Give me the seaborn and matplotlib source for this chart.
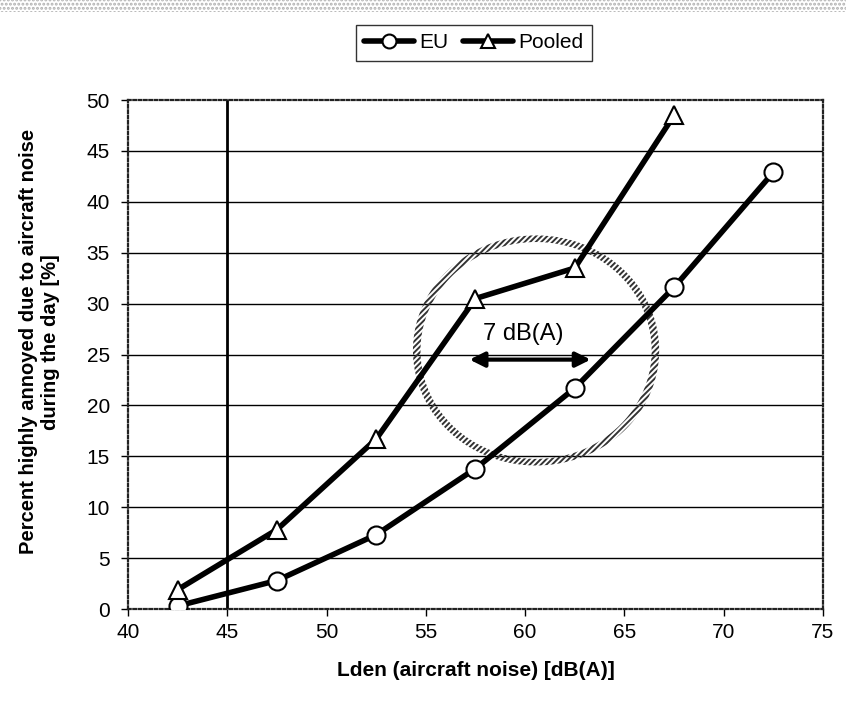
import numpy as np
import pandas as pd
import matplotlib
matplotlib.use("Agg")
import matplotlib.pyplot as plt
from matplotlib.patches import PathPatch, Rectangle
from matplotlib.path import Path
from matplotlib.lines import Line2D
import seaborn as sns

lden = [42.5, 47.5, 52.5, 57.5, 62.5, 67.5, 72.5]
eu = [0.3, 2.8, 7.3, 13.8, 21.7, 31.6, 42.9]
lden_pooled = [42.5, 47.5, 52.5, 57.5, 62.5, 67.5]
pooled = [1.9, 7.8, 16.7, 30.5, 33.5, 48.5]

xticks = [40, 45, 50, 55, 60, 65, 70, 75]
yticks = [0, 5, 10, 15, 20, 25, 30, 35, 40, 45, 50]

sns.set_style("white")
plt.rcParams["font.family"] = ["Liberation Sans", "DejaVu Sans"]
plt.rcParams["text.color"] = "black"
plt.rcParams["axes.labelcolor"] = "black"
plt.rcParams["hatch.linewidth"] = 1.4

fig = plt.figure(figsize=(8.46, 7.17), dpi=100)
ax = fig.add_axes([0.1513, 0.1506, 0.8215, 0.7099])

# dotted stripe along the top of the picture
fig.patches.append(Rectangle((0, 1 - 12 / 717), 1, 12 / 717, transform=fig.transFigure,
                             facecolor="white", edgecolor="#b0b0b0", hatch="....", lw=0))

ax.hlines(yticks[1:-1], 40, 75, color="black", lw=1, zorder=1)
ax.axvline(45, color="black", lw=2, zorder=2)

line_kw = dict(color="black", lw=4, markersize=13, markerfacecolor="white",
               markeredgecolor="black", markeredgewidth=1.5, zorder=4)
sns.lineplot(x=lden, y=eu, marker="o", ax=ax, **line_kw)
sns.lineplot(x=lden_pooled, y=pooled, marker="^", ax=ax, **line_kw)

# hatched ring
def ellipse_path(cx, cy, rx, ry, reverse=False):
    t = np.linspace(0, 2 * np.pi, 200)
    if reverse:
        t = t[::-1]
    pts = np.column_stack([cx + rx * np.cos(t), cy + ry * np.sin(t)])
    codes = [Path.MOVETO] + [Path.LINETO] * (len(pts) - 2) + [Path.CLOSEPOLY]
    return pts, codes

cx, cy = 60.55, 25.4
o_pts, o_codes = ellipse_path(cx, cy, 6.2, 11.3)
i_pts, i_codes = ellipse_path(cx, cy, 5.82, 10.65, reverse=True)
ring = Path(np.vstack([o_pts, i_pts]), o_codes + i_codes)
ax.add_patch(PathPatch(ring, facecolor="none", edgecolor="#333333", hatch="//////",
                       lw=0, zorder=3))

ax.annotate("", xy=(57.2, 24.5), xytext=(63.3, 24.5),
            arrowprops=dict(arrowstyle="<|-|>", color="black", lw=3,
                            mutation_scale=22, shrinkA=0, shrinkB=0), zorder=5)
ax.text(59.9, 27.0, "7 dB(A)", ha="center", va="center", fontsize=17, color="black")

ax.set_xlim(40, 75)
ax.set_ylim(0, 50)
ax.set_xticks(xticks)
ax.set_yticks(yticks)
ax.tick_params(axis="both", labelsize=15, length=5, width=1, direction="out",
               bottom=True, left=True, colors="black")
ax.tick_params(axis="x", pad=5)
ax.tick_params(axis="y", pad=8)

for s in ax.spines.values():
    s.set_visible(True)
    s.set_linestyle((0, (1.2, 1.2)))
    s.set_linewidth(1.6)
    s.set_color("#222222")

ax.set_xlabel("Lden (aircraft noise) [dB(A)]", fontsize=15, fontweight="bold", labelpad=14)
ax.set_ylabel("Percent highly annoyed due to aircraft noise\nduring the day [%]",
              fontsize=14.5, fontweight="bold")
ax.yaxis.set_label_coords(-0.098, 0.525)

handles = [Line2D([], [], marker="o", **line_kw), Line2D([], [], marker="^", **line_kw)]
leg = fig.legend(handles, ["EU", "Pooled"], loc="center", bbox_to_anchor=(474 / 846, 1 - 43 / 717),
                 ncol=2, fontsize=15, frameon=True, fancybox=False, edgecolor="black",
                 handlelength=2.4, columnspacing=0.7, handletextpad=0.25, borderpad=0.4)
leg.get_frame().set_linewidth(1)
for h in leg.legend_handles:
    h.set_markersize(10)

fig.savefig("out.png", dpi=100)
